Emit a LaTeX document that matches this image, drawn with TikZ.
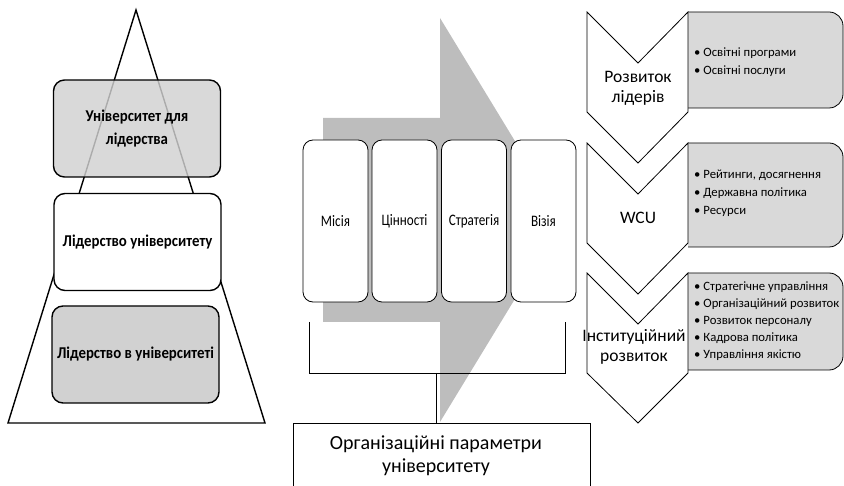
\documentclass[tikz,border=0pt]{standalone}
\usepackage{fontspec}
\setmainfont{Carlito}
\newfontfamily\narrowfont[FakeStretch=0.82]{Carlito}
\newfontfamily\boldnarrow[FakeStretch=0.9]{Carlito Bold}
\definecolor{arrowgray}{gray}{0.74}
\definecolor{boxgray}{gray}{0.82}
\definecolor{panelgray}{gray}{0.85}
\tikzset{
  pbox/.style={draw, line width=1.4pt, rounded corners=11pt, minimum width=167pt, minimum height=97pt, align=center, font=\boldnarrow\fontsize{16.5}{23}\selectfont, inner sep=0pt},
  pillar/.style={draw, line width=0.8pt, fill=white, rounded corners=10pt, minimum width=65pt, minimum height=162pt, font=\narrowfont\fontsize{16}{18}\selectfont, inner sep=0pt},
  chev/.style={draw, line width=0.8pt, fill=white, line join=miter},
  panel/.style={draw, line width=0.8pt, fill=panelgray, rounded corners=14pt},
  chevlabel/.style={align=center, font=\fontsize{17.5}{20}\selectfont, inner sep=0pt},
  bullets/.style={anchor=west, align=left, font=\fontsize{12.7}{17.8}\selectfont, inner sep=0pt},
  conn/.style={draw, line width=0.8pt}
}
\begin{document}
\begin{tikzpicture}[x=1pt,y=-1pt]
\useasboundingbox (0,0) rectangle (844,486);
% ---------- pyramid ----------
\draw[line width=1.4pt, line join=miter] (136,10) -- (265,423) -- (8,423) -- cycle;
\node[pbox, fill=boxgray, fill opacity=0.82, text opacity=1] (univ) at (137,128.5) {Університет для\\лідерства};
\node[pbox, fill=white] (lidu) at (137.5,242) {Лідерство університету};
\node[pbox, fill=boxgray] (lidv) at (135.5,354.5) {Лідерство в університеті};
% ---------- big arrow ----------
\fill[arrowgray] (323,118) -- (440,118) -- (440,18) -- (563,220) -- (440,422) -- (440,322) -- (323,322) -- cycle;
\node[pillar] (misia) at (335.5,221) {Місія};
\node[pillar] (tsinn) at (404.5,221) {Цінності};
\node[pillar] (strat) at (474,221) {Стратегія};
\node[pillar] (vizia) at (543.5,221) {Візія};
% bracket
\coordinate (bl) at (309,322);
\coordinate (br) at (565,322);
\coordinate (bm) at (436,373);
\draw[conn] (bl) -- (309,373) -- (565,373) -- (br);
\coordinate (orgtop) at (436,423);
\draw[conn] (bm) -- (orgtop);
\draw[conn] (293,490) -- (293,423) -- (590,423) -- (590,490);
\node[align=center, font=\fontsize{20}{23}\selectfont, inner sep=0pt] (org) at (436,456) {Організаційні параметри\\університету};
% ---------- chevrons ----------
\filldraw[panel] (688,12) -- (843,12) -- (843,108) -- (688,108);
\filldraw[panel] (688,143) -- (843,143) -- (843,247) -- (688,247);
\filldraw[panel] (688,273) -- (843,273) -- (843,370) -- (688,370);
\draw[chev] (587,12) -- (638,63) -- (688,12) -- (688,112) -- (638,163) -- (587,112) -- cycle;
\draw[chev] (587,143) -- (638,194) -- (688,143) -- (688,243) -- (638,294) -- (587,243) -- cycle;
\draw[chev] (587,273) -- (638,324) -- (688,273) -- (688,373) -- (638,423) -- (587,373) -- cycle;
\node[chevlabel] (rl) at (638,88) {Розвиток\\лідерів};
\node[chevlabel] (wcu) at (638,218) {WCU};
\node[chevlabel] (ir) at (634,347) {Інституційний\\розвиток};
\node[bullets] (b1) at (694,62.5) {• Освітні програми\\• Освітні послуги};
\node[bullets] (b2) at (694,193) {• Рейтинги, досягнення\\• Державна політика\\• Ресурси};
\node[bullets, font=\fontsize{12.7}{17}\selectfont] (b3) at (694,321) {• Стратегічне управління\\• Організаційний розвиток\\• Розвиток персоналу\\• Кадрова політика\\• Управління якістю};
\end{tikzpicture}
\end{document}
